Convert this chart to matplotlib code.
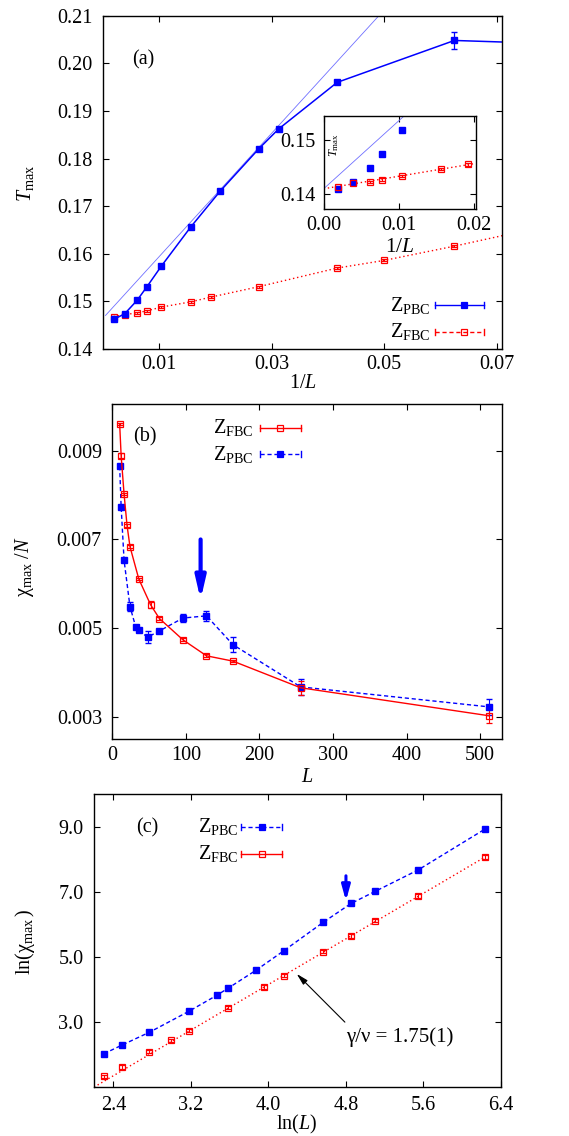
import numpy as np
import matplotlib
matplotlib.use("Agg")
import matplotlib.pyplot as plt
from matplotlib.ticker import FormatStrFormatter

plt.rcParams["font.family"] = ["Liberation Serif", "DejaVu Serif"]
plt.rcParams["mathtext.fontset"] = "custom"
plt.rcParams["mathtext.rm"] = "Liberation Serif"
plt.rcParams["mathtext.it"] = "Liberation Serif:italic"
plt.rcParams["mathtext.bf"] = "Liberation Serif:bold"

# ---- panel (a): T_max vs 1/L ----
L_pbc_a = np.array([512, 256, 164, 128, 96, 64, 48, 36, 32, 24, 16, 12])
T_pbc_a = [0.1462, 0.1474, 0.1502, 0.1530, 0.1574, 0.1656, 0.1731, 0.1821,
           0.1862, 0.1960, 0.2048, 0.2040]
Terr_pbc_a = [0.0002, 0.0002, 0.0002, 0.0002, 0.0002, 0.0002, 0.0002, 0.0002,
              0.0002, 0.0002, 0.0017, 0.0002]
L_fbc_a = np.array([512, 256, 164, 128, 96, 64, 52, 36, 24, 20, 16, 12])
T_fbc_a = [0.1468, 0.1472, 0.1476, 0.1480, 0.1488, 0.1499, 0.1509, 0.1531,
           0.1570, 0.1586, 0.1616, 0.1670]
Terr_fbc_a = [0.0002] * 12
fit_a_pbc = (0.1464, 1.296)          # intercept, slope

# inset of (a)
L_pbc_in = np.array([512, 256, 164, 128, 96])
T_pbc_in = [0.1409, 0.1422, 0.1449, 0.1475, 0.1519]
L_fbc_in = np.array([512, 256, 164, 128, 96, 64, 52])
T_fbc_in = [0.1414, 0.1420, 0.1423, 0.1427, 0.1434, 0.1446, 0.1455]
fit_in_pbc = (0.1410, 1.26)
fit_in_fbc = (0.1410, 0.232)

# ---- panel (b): chi_max/N vs L ----
L_fbc_b = [10, 12, 16, 20, 24, 36, 52, 64, 96, 128, 164, 256, 512]
chi_fbc_b = [0.00960, 0.00889, 0.00802, 0.00732, 0.00684, 0.00611, 0.00553,
             0.00522, 0.00474, 0.00438, 0.00426, 0.00366, 0.00303]
err_fbc_b = [0.00003, 0.00005, 0.00003, 0.00003, 0.00003, 0.00003, 0.00008,
             0.00003, 0.00003, 0.00003, 0.00003, 0.00016, 0.00017]
L_pbc_b = [10, 12, 16, 24, 32, 36, 48, 64, 96, 128, 164, 256, 512]
chi_pbc_b = [0.00865, 0.00774, 0.00653, 0.00549, 0.00502, 0.00495, 0.00480,
             0.00494, 0.00523, 0.00528, 0.00463, 0.00368, 0.00323]
err_pbc_b = [0.00003, 0.00003, 0.00004, 0.00011, 0.00004, 0.00003, 0.00013,
             0.00005, 0.00009, 0.00011, 0.00017, 0.00018, 0.00018]

# ---- panel (c): ln(chi_max) vs ln(L) ----
L_pbc_c = np.array([10, 12, 16, 24, 32, 36, 48, 64, 96, 128, 164, 256, 512])
lnchi_pbc_c = [2.03, 2.29, 2.69, 3.33, 3.82, 4.04, 4.59, 5.19, 6.06, 6.64,
               7.01, 7.67, 8.93]
L_fbc_c = np.array([10, 12, 16, 20, 24, 36, 52, 64, 96, 128, 164, 256, 512])
lnchi_fbc_c = [1.34, 1.62, 2.09, 2.44, 2.74, 3.44, 4.08, 4.43, 5.16, 5.64,
               6.11, 6.87, 8.07]
fit_c_fbc = (-2.845, 1.75)

BLUE = "#0000ff"
RED = "#ff0000"
FITBLUE = "#6f6fff"
DOT = (0, (1, 2))
DASH = (0, (3, 2))

W, H = 569, 1136
fig = plt.figure(figsize=(W / 100, H / 100), dpi=100)


def px_axes(l, r, t, b):
    return fig.add_axes([l / W, 1 - b / H, (r - l) / W, (b - t) / H])


def style(ax, xticks, yticks, xfmt, yfmt, xpad=4.5, ypad=7.5):
    ax.set_xticks(xticks)
    ax.set_yticks(yticks)
    ax.xaxis.set_major_formatter(FormatStrFormatter(xfmt))
    ax.yaxis.set_major_formatter(FormatStrFormatter(yfmt))
    ax.tick_params(direction="in", top=True, right=True, length=4.5,
                   width=0.8, labelsize=14.5)
    ax.tick_params(axis="x", pad=xpad)
    ax.tick_params(axis="y", pad=ypad)
    for s in ax.spines.values():
        s.set_linewidth(1.0)


def key(ax, y, xt, x0, x1, xm, label, color, ls, mfc, ms):
    tr = ax.transAxes
    ax.plot([x0, x1], [y, y], transform=tr, color=color, ls=ls, lw=1.0,
            clip_on=False)
    d = 3.0 / (ax.get_position().height * H)
    for xc in (x0, x1):
        ax.plot([xc, xc], [y - d, y + d], transform=tr, color=color, lw=1.0,
                clip_on=False)
    ax.plot([xm], [y], transform=tr, marker="s", ms=ms, mfc=mfc, mec=color,
            mew=0.9, clip_on=False)
    ax.text(xt, y, label, transform=tr, ha="right", va="center", fontsize=14.5)


def flabel(x, y, s, rot=0, size=14.5):
    fig.text(x / W, 1 - y / H, s, rotation=rot, ha="center", va="center",
             fontsize=size)


# ================= (a) =================
ax = px_axes(102.7, 501.7, 15.7, 349.0)
xf = np.array([0.0005, 0.06])
ax.plot(xf, fit_a_pbc[0] + fit_a_pbc[1] * xf, color=FITBLUE, lw=0.6)
ax.errorbar(1.0 / L_fbc_a, T_fbc_a, yerr=Terr_fbc_a, color=RED, ls=DOT, lw=1.0,
            marker="s", ms=4.5, mfc="none", mec=RED, mew=0.9, capsize=2,
            elinewidth=0.8)
ax.errorbar(1.0 / L_pbc_a, T_pbc_a, yerr=Terr_pbc_a, color=BLUE, ls="-",
            lw=1.1, marker="s", ms=4, mfc=BLUE, mec=BLUE, capsize=2,
            elinewidth=0.9)
ax.set_xlim(0, 0.0709)
ax.set_ylim(0.14, 0.21)
style(ax, [0.01, 0.03, 0.05, 0.07], np.arange(0.14, 0.2101, 0.01),
      "%.2f", "%.2f")
ax.text(0.101, 0.867, "(a)", transform=ax.transAxes, ha="center",
        va="center", fontsize=14.5)
key(ax, 0.132, 0.822, 0.833, 0.9556, 0.9055, r"$\mathrm{Z}_{\mathrm{PBC}}$",
    BLUE, "-", BLUE, 4)
key(ax, 0.052, 0.822, 0.833, 0.9556, 0.9055, r"$\mathrm{Z}_{\mathrm{FBC}}$",
    RED, DASH, "none", 4.5)
flabel(25, 183, r"$T_{\mathrm{max}}$", rot=90)
flabel(303, 384, r"1/$L$")

# inset
ai = px_axes(323.7, 475.7, 116.3, 209.3)
ai.set_facecolor("white")
xi = np.array([0.0, 0.0202])
ai.plot(xi, fit_in_pbc[0] + fit_in_pbc[1] * xi, color=FITBLUE, lw=0.6)
ai.plot(xi, fit_in_fbc[0] + fit_in_fbc[1] * xi, color=RED, ls=DOT, lw=1.0)
ai.errorbar(1.0 / L_fbc_in, T_fbc_in, yerr=0.0002, color=RED, ls="none",
            marker="s", ms=4.5, mfc="none", mec=RED, mew=0.9, capsize=2,
            elinewidth=0.8)
ai.plot(1.0 / L_pbc_in, T_pbc_in, ls="none", marker="s", ms=4, color=BLUE)
ai.set_xlim(0, 0.0202)
ai.set_ylim(0.1372, 0.1544)
style(ai, [0.0, 0.01, 0.02], [0.14, 0.15], "%.2f", "%.2f", xpad=5, ypad=6)
ai.text(0.068, 0.69, r"$T_{\mathrm{max}}$", transform=ai.transAxes,
        rotation=90, ha="center", va="center", fontsize=9)
flabel(400, 247, r"1/$L$", size=15.5)

# ================= (b) =================
bx = px_axes(112.3, 502.3, 404.0, 739.3)
bx.errorbar(L_pbc_b, chi_pbc_b, yerr=err_pbc_b, color=BLUE, ls=DASH, lw=1.0,
            marker="s", ms=4, mfc=BLUE, mec=BLUE, capsize=2, elinewidth=0.8)
bx.errorbar(L_fbc_b, chi_fbc_b, yerr=err_fbc_b, color=RED, ls="-", lw=1.0,
            marker="s", ms=4.5, mfc="none", mec=RED, mew=0.9, capsize=2,
            elinewidth=0.8)
bx.annotate("", xy=(120, 0.00564), xytext=(120, 0.0070),
            arrowprops=dict(arrowstyle="-|>,head_length=1.3,head_width=0.3",
                            color=BLUE, lw=3, shrinkA=0, shrinkB=0))
bx.set_xlim(0, 530)
bx.set_ylim(0.0025, 0.01005)
style(bx, [0, 100, 200, 300, 400, 500], [0.003, 0.005, 0.007, 0.009],
      "%d", "%.3f")
bx.text(0.0838, 0.902, "(b)", transform=bx.transAxes, ha="center",
        va="center", fontsize=14.5)
key(bx, 0.929, 0.363, 0.379, 0.484, 0.430, r"$\mathrm{Z}_{\mathrm{FBC}}$",
    RED, "-", "none", 4.5)
key(bx, 0.850, 0.363, 0.379, 0.484, 0.430, r"$\mathrm{Z}_{\mathrm{PBC}}$",
    BLUE, DASH, BLUE, 4)
flabel(25, 567, r"$\mathrm{χ}_{\mathrm{max}}\ /N$", rot=90)
flabel(307, 778, r"$L$")

# ================= (c) =================
cx = px_axes(94.0, 501.0, 794.0, 1087.3)
xc = np.array([2.2, np.log(512)])
cx.plot(xc, fit_c_fbc[0] + fit_c_fbc[1] * xc, color=RED, ls=DOT, lw=1.0)
cx.errorbar(np.log(L_fbc_c), lnchi_fbc_c, yerr=0.05, color=RED, ls="none",
            marker="s", ms=4.5, mfc="none", mec=RED, mew=0.9, capsize=2,
            elinewidth=0.8)
cx.errorbar(np.log(L_pbc_c), lnchi_pbc_c, yerr=0.03, color=BLUE, ls=DASH,
            lw=1.0, marker="s", ms=4, mfc=BLUE, mec=BLUE, capsize=2,
            elinewidth=0.8)
cx.annotate("", xy=(4.80, 6.72), xytext=(4.80, 7.49),
            arrowprops=dict(arrowstyle="-|>,head_length=0.9,head_width=0.25",
                            color=BLUE, lw=2.2, shrinkA=0, shrinkB=0))
cx.annotate("", xy=(4.292, 4.48), xytext=(4.789, 3.0),
            arrowprops=dict(arrowstyle="-|>,head_length=0.7,head_width=0.18",
                            color="black", lw=0.8, shrinkA=0, shrinkB=0))
cx.text(4.80, 2.54, "γ/ν = 1.75(1)", ha="left", va="center", fontsize=15)
cx.set_xlim(2.2, 6.4)
cx.set_ylim(1.0, 10.0)
style(cx, [2.4, 3.2, 4.0, 4.8, 5.6, 6.4], [3.0, 5.0, 7.0, 9.0],
      "%.1f", "%.1f", xpad=6)
cx.text(0.130, 0.884, "(c)", transform=cx.transAxes, ha="center",
        va="center", fontsize=14.5)
key(cx, 0.8885, 0.354, 0.361, 0.462, 0.413, r"$\mathrm{Z}_{\mathrm{PBC}}$",
    BLUE, DASH, BLUE, 4)
key(cx, 0.7955, 0.354, 0.361, 0.462, 0.413, r"$\mathrm{Z}_{\mathrm{FBC}}$",
    RED, "-", "none", 4.5)
flabel(25, 942, r"$\mathrm{ln(χ}_{\mathrm{max}}\,\mathrm{)}$", rot=90)
flabel(297, 1124, r"ln($L$)")

fig.savefig("out.png", dpi=100)
